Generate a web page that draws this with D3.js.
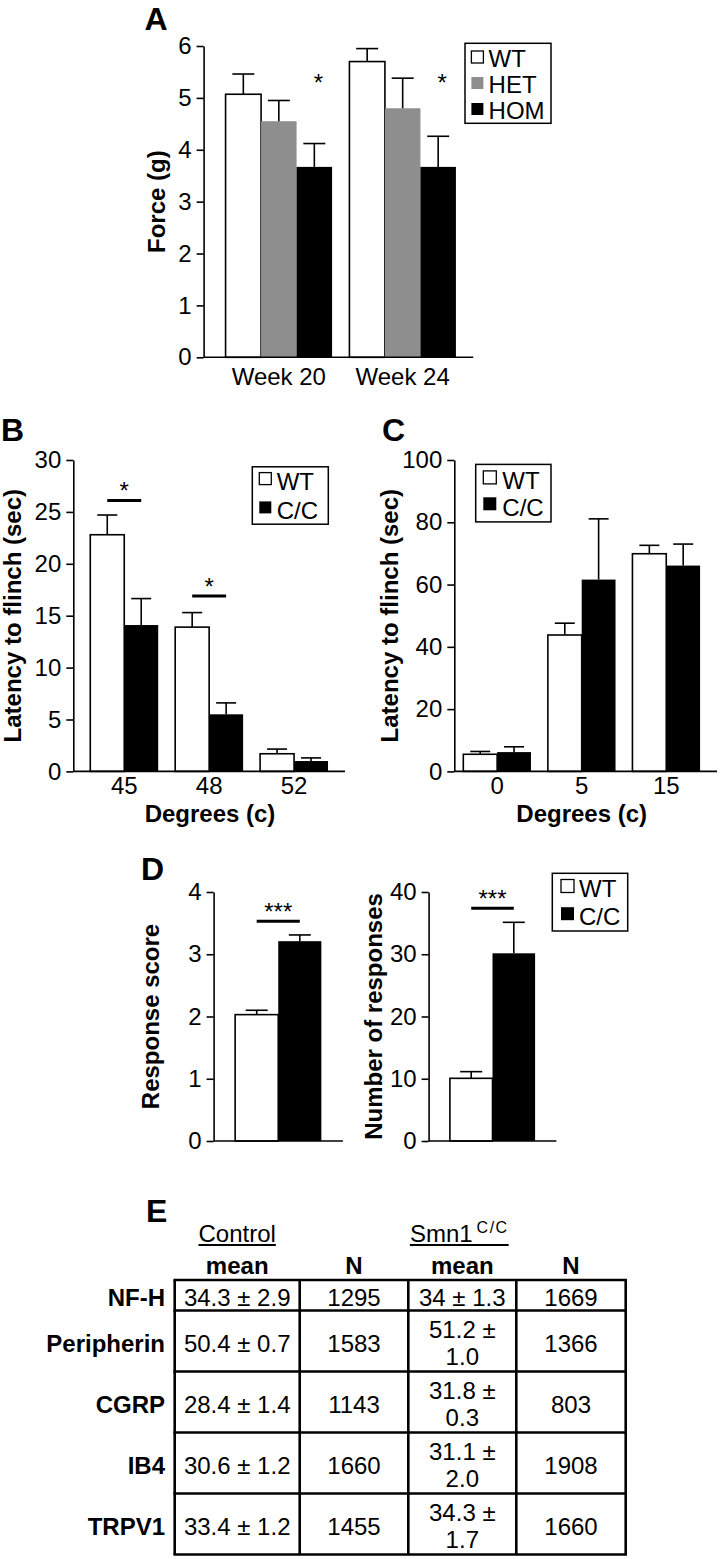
<!DOCTYPE html>
<html><head><meta charset="utf-8">
<script src="https://cdn.jsdelivr.net/npm/d3@7"></script>
<style>
html,body{margin:0;padding:0;background:#fff;}
svg{display:block;}
text{font-family:"Liberation Sans",Arial,Helvetica,sans-serif;fill:#000;}
</style></head><body>
<svg id="fig" width="720" height="1559"></svg>
<script>
// ---------- DATA ----------
// Panel A: von Frey force
const aCategories = ["Week 20", "Week 24"];
const aSeries = ["WT", "HET", "HOM"];
const aWT = [5.07, 5.70];   const aWTErr = [0.39, 0.25];
const aHET = [4.55, 4.80];  const aHETErr = [0.40, 0.58];
const aHOM = [3.67, 3.67];  const aHOMErr = [0.45, 0.59];
const aTicks = [0, 1, 2, 3, 4, 5, 6];
const aSigLabels = ["*", "*"];
const aSigLevel = [5.14, 5.14];

// Panel B: hot plate
const bCategories = ["45", "48", "52"];
const bSeries = ["WT", "C/C"];
const bWT = [22.8, 13.9, 1.7];  const bWTErr = [1.9, 1.4, 0.45];
const bCC = [14.1, 5.5, 1.0];   const bCCErr = [2.55, 1.1, 0.3];
const bTicks = [0, 5, 10, 15, 20, 25, 30];
const bSigCats = ["45", "48"];
const bSigLevel = [26.1, 16.9];
const bSigLabels = ["*", "*"];

// Panel C: cold plate
const cCategories = ["0", "5", "15"];
const cSeries = ["WT", "C/C"];
const cWT = [5.5, 43.8, 69.9];  const cWTErr = [0.9, 3.8, 2.7];
const cCC = [6.2, 61.6, 66.1];  const cCCErr = [1.7, 19.5, 6.9];
const cTicks = [0, 20, 40, 60, 80, 100];

// Panel D
const dSeries = ["WT", "C/C"];
const dScore = [2.03, 3.21];     const dScoreErr = [0.07, 0.10];
const dScoreTicks = [0, 1, 2, 3, 4];
const dScoreSig = 3.53;
const dCount = [10.07, 30.15];   const dCountErr = [1.07, 4.98];
const dCountTicks = [0, 10, 20, 30, 40];
const dCountSig = 37.4;

// Panel E: table
const eMarkers = ["NF-H", "Peripherin", "CGRP", "IB4", "TRPV1"];
const eControlMean = [34.3, 50.4, 28.4, 30.6, 33.4];
const eControlSE = [2.9, 0.7, 1.4, 1.2, 1.2];
const eControlN = [1295, 1583, 1143, 1660, 1455];
const eSmnMean = [34, 51.2, 31.8, 31.1, 34.3];
const eSmnSE = [1.3, 1.0, 0.3, 2.0, 1.7];
const eSmnN = [1669, 1366, 803, 1908, 1660];

// ---------- DRAWING ----------
const svg = d3.select("#fig");
const LW = 1.6;
const GRAY = "#8e8e8e";

function styleAxis(g) {
  g.attr("font-family", null).attr("font-size", null);
  g.selectAll("text").attr("font-size", 24).attr("fill", "#000");
  g.selectAll("line, path").attr("stroke", "#000").attr("stroke-width", LW);
}

function drawPanel(cfg) {
  const y = d3.scaleLinear().domain(cfg.yDomain).range(cfg.yRange);
  const x0 = d3.scaleBand().domain(cfg.cats).range(cfg.xRange)
    .paddingInner(cfg.pi).paddingOuter(cfg.po);
  const x1 = d3.scaleBand().domain(cfg.series.map(s => s.name)).range([0, x0.bandwidth()]);
  const g = svg.append("g");

  g.append("g").attr("transform", `translate(${cfg.axisX},0)`)
    .call(d3.axisLeft(y).tickValues(cfg.ticks).tickSize(7).tickPadding(5).tickSizeOuter(0)
      .tickFormat(d3.format("d")))
    .call(styleAxis);

  cfg.series.forEach(s => {
    const data = cfg.cats.map((c, i) => ({ c, v: s.values[i], e: s.errs[i] }));
    const cx = d => x0(d.c) + x1(s.name) + x1.bandwidth() / 2;
    g.selectAll(null).data(data).join("rect")
      .attr("x", d => x0(d.c) + x1(s.name))
      .attr("y", d => y(d.v))
      .attr("width", x1.bandwidth())
      .attr("height", d => y(0) - y(d.v))
      .attr("fill", s.fill)
      .attr("stroke", s.stroke || "none")
      .attr("stroke-width", LW);
    g.selectAll(null).data(data).join("line")
      .attr("x1", cx).attr("x2", cx)
      .attr("y1", d => y(d.v)).attr("y2", d => y(d.v + d.e))
      .attr("stroke", "#000").attr("stroke-width", LW);
    g.selectAll(null).data(data).join("line")
      .attr("x1", d => cx(d) - cfg.capW / 2).attr("x2", d => cx(d) + cfg.capW / 2)
      .attr("y1", d => y(d.v + d.e)).attr("y2", d => y(d.v + d.e))
      .attr("stroke", "#000").attr("stroke-width", LW);
  });

  g.append("line").attr("x1", cfg.axisX).attr("x2", cfg.axisEnd)
    .attr("y1", y(0)).attr("y2", y(0)).attr("stroke", "#000").attr("stroke-width", LW);

  if (cfg.showCats) {
    g.append("g").attr("transform", `translate(0,${y(0)})`)
      .call(d3.axisBottom(x0).tickSize(0).tickPadding(cfg.labelPad))
      .call(a => a.select(".domain").remove())
      .call(styleAxis);
  }
  return { x0, x1, y, g };
}

function sigBar(p, cat, level, label, s0, s1) {
  const xa = p.x0(cat) + p.x1(s0) + p.x1.bandwidth() / 2;
  const xb = p.x0(cat) + p.x1(s1) + p.x1.bandwidth() / 2;
  const yy = p.y(level);
  p.g.append("line").attr("x1", xa).attr("x2", xb).attr("y1", yy).attr("y2", yy)
    .attr("stroke", "#000").attr("stroke-width", 3);
  p.g.append("text").attr("x", (xa + xb) / 2).attr("y", yy - 1)
    .attr("text-anchor", "middle").attr("font-size", 24).text(label);
}

function legend(box, sq, textX, baselines, sqOff, items) {
  const g = svg.append("g");
  g.append("rect").attr("x", box[0]).attr("y", box[1]).attr("width", box[2]).attr("height", box[3])
    .attr("fill", "#fff").attr("stroke", "#000").attr("stroke-width", 1.5);
  items.forEach((it, i) => {
    g.append("rect").attr("x", sq[0]).attr("y", baselines[i] - sqOff)
      .attr("width", sq[1]).attr("height", sq[1])
      .attr("fill", it.fill).attr("stroke", it.stroke || "none").attr("stroke-width", 1.3);
    g.append("text").attr("x", textX).attr("y", baselines[i]).attr("font-size", 24).text(it.name);
  });
}

function yLabel(x, y, text) {
  svg.append("text").attr("transform", `translate(${x},${y}) rotate(-90)`)
    .attr("text-anchor", "middle").attr("font-size", 24).attr("font-weight", "bold").text(text);
}
function panelLetter(x, y, t) {
  svg.append("text").attr("x", x).attr("y", y).attr("font-size", 32).attr("font-weight", "bold").text(t);
}
function styleFor(name) {
  if (name === "WT") return { fill: "#fff", stroke: "#000" };
  if (name === "HET") return { fill: GRAY, stroke: null };
  return { fill: "#000", stroke: null };
}

// ----- Panel A -----
const aVals = { WT: [aWT, aWTErr], HET: [aHET, aHETErr], HOM: [aHOM, aHOMErr] };
const pA = drawPanel({
  cats: aCategories,
  series: aSeries.map(n => ({ name: n, values: aVals[n][0], errs: aVals[n][1], ...styleFor(n) })),
  yDomain: [0, 6], yRange: [357.3, 46], ticks: aTicks,
  xRange: [207, 474.5], pi: 0.14, po: 0.15,
  axisX: 203.6, axisEnd: 473.2, capW: 22, showCats: true, labelPad: 11
});
aCategories.forEach((c, i) => {
  const cx = pA.x0(c) + pA.x1("HOM") + pA.x1.bandwidth() / 2 + 4;
  pA.g.append("text").attr("x", cx).attr("y", pA.y(aSigLevel[i]))
    .attr("text-anchor", "middle").attr("font-size", 24).text(aSigLabels[i]);
});
legend([465, 43.3, 86, 80], [471.4, 12], 488.6, [66.5, 92.5, 118.5], 15.5,
  aSeries.map(n => ({ name: n, ...styleFor(n) })));
yLabel(165, 201.7, "Force (g)");
panelLetter(144.6, 30, "A");

// ----- Panel B -----
const pB = drawPanel({
  cats: bCategories,
  series: [{ name: "WT", values: bWT, errs: bWTErr, ...styleFor("WT") },
           { name: "C/C", values: bCC, errs: bCCErr, ...styleFor("C/C") }],
  yDomain: [0, 30], yRange: [771.4, 460], ticks: bTicks,
  xRange: [73.3, 345], pi: 0.2, po: 0.2,
  axisX: 73.3, axisEnd: 345, capW: 20, showCats: true, labelPad: 6
});
bSigCats.forEach((c, i) => sigBar(pB, c, bSigLevel[i], bSigLabels[i], "WT", "C/C"));
legend([252.3, 466.8, 76, 57.4], [259.3, 12], 276.7, [490.4, 519.2], 17.8,
  bSeries.map(n => ({ name: n, ...styleFor(n) })));
yLabel(20.5, 615.7, "Latency to flinch (sec)");
svg.append("text").attr("x", 210).attr("y", 822).attr("text-anchor", "middle")
  .attr("font-size", 24).attr("font-weight", "bold").text("Degrees (c)");
panelLetter(1, 441, "B");

// ----- Panel C -----
const pC = drawPanel({
  cats: cCategories,
  series: [{ name: "WT", values: cWT, errs: cWTErr, ...styleFor("WT") },
           { name: "C/C", values: cCC, errs: cCCErr, ...styleFor("C/C") }],
  yDomain: [0, 100], yRange: [771.4, 460], ticks: cTicks,
  xRange: [446.4, 717], pi: 0.2, po: 0.2,
  axisX: 454.3, axisEnd: 717, capW: 20, showCats: true, labelPad: 6
});
legend([475.7, 464.4, 75.3, 57.5], [483.3, 13], 502.3, [489.4, 515.8], 18.5,
  cSeries.map(n => ({ name: n, ...styleFor(n) })));
yLabel(398, 615.7, "Latency to flinch (sec)");
svg.append("text").attr("x", 581.7).attr("y", 822).attr("text-anchor", "middle")
  .attr("font-size", 24).attr("font-weight", "bold").text("Degrees (c)");
panelLetter(382, 441, "C");

// ----- Panel D -----
const dCat = ["D"];
const pD1 = drawPanel({
  cats: dCat,
  series: dSeries.map((n, i) => ({ name: n, values: [dScore[i]], errs: [dScoreErr[i]], ...styleFor(n) })),
  yDomain: [0, 4], yRange: [1141, 892], ticks: dScoreTicks,
  xRange: [213.6, 342.9], pi: 0, po: 0.25,
  axisX: 213.6, axisEnd: 342.9, capW: 22, showCats: false
});
sigBar(pD1, "D", dScoreSig, "***", "WT", "C/C");
const pD2 = drawPanel({
  cats: dCat,
  series: dSeries.map((n, i) => ({ name: n, values: [dCount[i]], errs: [dCountErr[i]], ...styleFor(n) })),
  yDomain: [0, 40], yRange: [1141, 892], ticks: dCountTicks,
  xRange: [428.6, 556.4], pi: 0, po: 0.25,
  axisX: 428.6, axisEnd: 556.4, capW: 22, showCats: false
});
sigBar(pD2, "D", dCountSig, "***", "WT", "C/C");
legend([552.3, 873.3, 75.4, 57.7], [561, 13], 579, [897.3, 925], 17.8,
  dSeries.map(n => ({ name: n, ...styleFor(n) })));
yLabel(159, 1016.5, "Response score");
yLabel(381.5, 1016.5, "Number of responses");
panelLetter(141, 880, "D");

// ----- Panel E (table) -----
panelLetter(146, 1221.7, "E");
const colX = [174.7, 299.7, 408.3, 516.3, 625.7];
const colC = d3.range(4).map(i => (colX[i] + colX[i + 1]) / 2);
const tg = svg.append("g");

function headerUnderlined(text, cx, sup) {
  const g = tg.append("g");
  const t = g.append("text").attr("y", 1241.7).attr("font-size", 24).text(text);
  const w = t.node().getComputedTextLength();
  let s = null, sw = 0;
  if (sup) {
    s = g.append("text").attr("y", 1233.3).attr("font-size", 16).attr("letter-spacing", 1.5).text(sup);
    sw = s.node().getComputedTextLength();
  }
  const gap = sup ? 4 : 0;
  const total = w + gap + sw;
  const x0 = cx - total / 2;
  t.attr("x", x0);
  if (s) s.attr("x", x0 + w + gap);
  g.append("line").attr("x1", x0).attr("x2", x0 + total)
    .attr("y1", 1245).attr("y2", 1245).attr("stroke", "#000").attr("stroke-width", 2);
}
headerUnderlined("Control", colC[0], null);
headerUnderlined("Smn1", colC[2] - 3, "C/C");
["mean", "N", "mean", "N"].forEach((h, i) => {
  tg.append("text").attr("x", colC[i]).attr("y", 1274).attr("text-anchor", "middle")
    .attr("font-size", 24).attr("font-weight", "bold").text(h);
});

const fmtMean = v => String(v);
const rows = eMarkers.map((m, i) => ({
  label: m,
  cells: [`${fmtMean(eControlMean[i])} ± ${eControlSE[i].toFixed(1)}`, String(eControlN[i]),
          `${fmtMean(eSmnMean[i])} ± ${eSmnSE[i].toFixed(1)}`, String(eSmnN[i])]
}));
const meas = tg.append("text").attr("font-size", 24).attr("visibility", "hidden");
function wrap(text, maxW) {
  meas.text(text);
  if (meas.node().getComputedTextLength() <= maxW) return [text];
  const words = text.split(" ");
  const lines = []; let cur = "";
  words.forEach(w => {
    const cand = cur ? cur + " " + w : w;
    meas.text(cand);
    if (meas.node().getComputedTextLength() > maxW && cur) { lines.push(cur); cur = w; }
    else cur = cand;
  });
  if (cur) lines.push(cur);
  return lines;
}
const ROW_UNIT = 30.5, LINE_H = 27;
let yTop = 1280;
const rowEdges = [yTop];
rows.forEach(r => {
  r.lines = r.cells.map((c, j) => wrap(c, colX[j + 1] - colX[j] - 6));
  const n = d3.max(r.lines, l => l.length);
  r.top = yTop; r.h = ROW_UNIT * n; r.center = yTop + r.h / 2;
  yTop += r.h; rowEdges.push(yTop);
});
meas.remove();
rows.forEach(r => {
  tg.append("text").attr("x", 165).attr("y", r.center + 10.5).attr("text-anchor", "end")
    .attr("font-size", 24).attr("font-weight", "bold").text(r.label);
  r.lines.forEach((ls, j) => {
    const first = r.center - (ls.length - 1) * LINE_H / 2 + 10.5;
    ls.forEach((l, k) => {
      tg.append("text").attr("x", colC[j]).attr("y", first + k * LINE_H)
        .attr("text-anchor", "middle").attr("font-size", 24).text(l);
    });
  });
});
rowEdges.forEach(yy => tg.append("line").attr("x1", colX[0] - 1.25).attr("x2", colX[4] + 1.25)
  .attr("y1", yy).attr("y2", yy).attr("stroke", "#000").attr("stroke-width", 2.6));
colX.forEach(xx => tg.append("line").attr("x1", xx).attr("x2", xx)
  .attr("y1", rowEdges[0]).attr("y2", rowEdges[rowEdges.length - 1])
  .attr("stroke", "#000").attr("stroke-width", 2.6));
</script>
</body></html>
